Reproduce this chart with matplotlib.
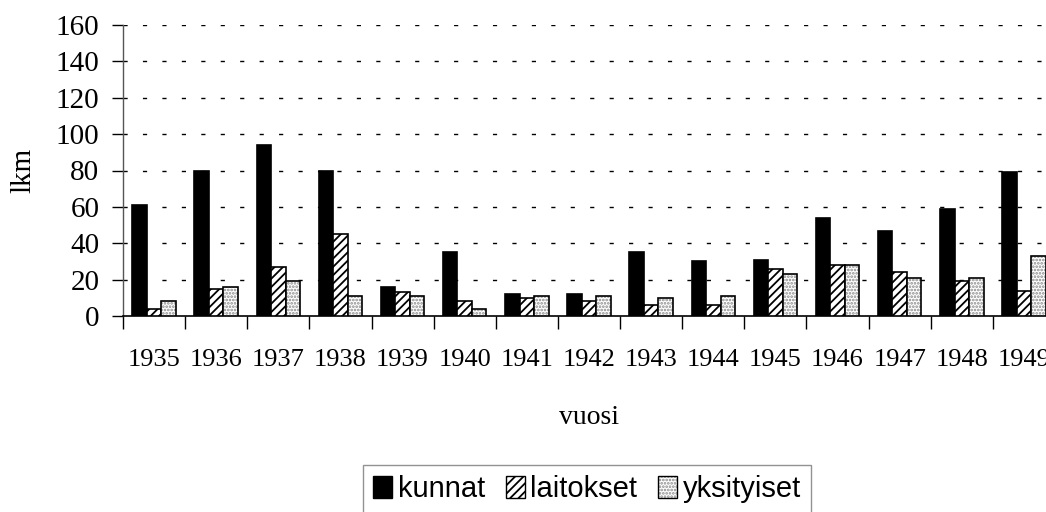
import matplotlib
matplotlib.use("Agg")
import matplotlib.pyplot as plt
import matplotlib.colors as mcolors
import numpy as np
from matplotlib.patches import Patch

# =======================
# Data
# =======================
years = ["1935", "1936", "1937", "1938", "1939", "1940", "1941", "1942",
         "1943", "1944", "1945", "1946", "1947", "1948", "1949"]
kunnat = [61, 80, 94, 80, 16, 35, 12, 12, 35, 30, 31, 54, 47, 59, 79]
laitokset = [4, 15, 27, 45, 13, 8, 10, 8, 6, 6, 26, 28, 24, 19, 14]
yksityiset = [8, 16, 19, 11, 11, 4, 11, 11, 10, 11, 23, 28, 21, 21, 33]
y_ticks = [0, 20, 40, 60, 80, 100, 120, 140, 160]

plt.rcParams["hatch.linewidth"] = 1.3
plt.rcParams["lines.scale_dashes"] = False
serif = "Liberation Serif"
sans = "Liberation Sans"
dot_grey = mcolors.to_rgba("#8a8a8a")

# =======================
# Figure / axes
# =======================
fig = plt.figure(figsize=(10.46, 5.12), dpi=100)
ax = fig.add_axes([123 / 1046, 1 - 316 / 512, 932 / 1046, 291 / 512])

x = np.arange(len(years))
w = 0.233

ax.bar(x - w, kunnat, w, color="black", edgecolor="black", linewidth=1.2, zorder=3)
ax.bar(x, laitokset, w, color="white", edgecolor="black", hatch="////",
       linewidth=1.2, zorder=3)
b3 = ax.bar(x + w, yksityiset, w, color="white", edgecolor="black", hatch=".....",
            linewidth=1.2, zorder=3)
for p in b3:
    p._hatch_color = dot_grey  # grey dots, black outline

ax.set_ylim(0, 160)
ax.set_xlim(-0.5, len(years) - 0.5)
ax.set_yticks(y_ticks)
ax.set_yticklabels([str(v) for v in y_ticks], fontfamily=serif, fontsize=21)

# ticks between categories, labels at centres
ax.set_xticks(np.arange(len(years) + 1) - 0.5)
ax.set_xticklabels([])
ax.set_xticks(x, minor=True)
ax.set_xticklabels(years, minor=True, fontfamily=serif, fontsize=19)
ax.tick_params(axis="x", which="minor", length=0, pad=24)
ax.tick_params(axis="x", which="major", length=9, width=1, direction="out")
ax.tick_params(axis="y", length=8, width=1, direction="out", pad=9)

for v in y_ticks[1:]:
    ax.axhline(v, color="black", linewidth=1, linestyle=(0, (3, 11)), zorder=1)

for s in ["top", "right"]:
    ax.spines[s].set_visible(False)
ax.spines["left"].set_color("#555555")
ax.spines["bottom"].set_color("black")
ax.spines["left"].set_linewidth(1)
ax.spines["bottom"].set_linewidth(1.2)

ax.set_ylabel("lkm", fontfamily=serif, fontsize=21, labelpad=14)
ax.set_xlabel("vuosi", fontfamily=serif, fontsize=20, labelpad=24)

# =======================
# Legend
# =======================
h1 = Patch(facecolor="black", edgecolor="black")
h2 = Patch(facecolor="white", edgecolor="black", hatch="////")
h3 = Patch(facecolor="white", edgecolor="black", hatch=".....")
h3._hatch_color = dot_grey
leg = fig.legend([h1, h2, h3], ["kunnat", "laitokset", "yksityiset"],
                 loc="upper center", bbox_to_anchor=(587 / 1046, 1 - 465 / 512),
                 ncol=3, frameon=True, fancybox=False, edgecolor="#777777",
                 prop={"family": sans, "size": 21}, handlelength=0.65, handleheight=0.75,
                 handletextpad=0.2, columnspacing=0.7, borderpad=0.35, borderaxespad=0)
leg.get_frame().set_linewidth(1)

fig.savefig("out.png", dpi=100)
